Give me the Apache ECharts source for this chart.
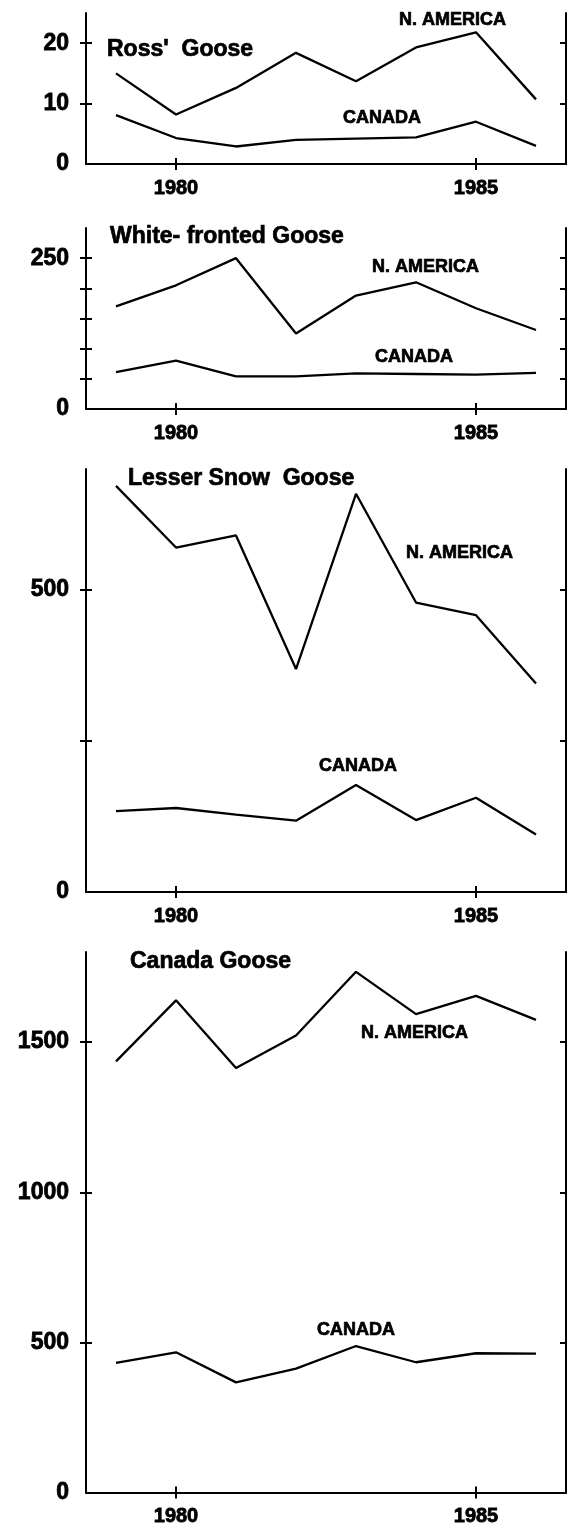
<!DOCTYPE html>
<html>
<head>
<meta charset="utf-8">
<title>Goose harvest 1979-1986</title>
<script src="https://cdn.jsdelivr.net/npm/echarts@6/dist/echarts.min.js"></script>
<style>
  html, body { margin: 0; padding: 0; background: #fff; }
  #chart { width: 568px; height: 1527px; }
</style>
</head>
<body>
<div id="chart"></div>
<script>
// data (thousands of birds)
const years = [1979, 1980, 1981, 1982, 1983, 1984, 1985, 1986]
const yearLabels = [1980, 1985]

const rossNA = [15.0, 8.2, 12.6, 18.4, 13.7, 19.3, 21.8, 10.7]
const rossCA = [8.1, 4.3, 2.9, 4.0, 4.2, 4.4, 7.0, 3.0]

const whiteNA = [170, 205, 250, 125, 188, 210, 167, 131]
const whiteCA = [61, 80, 54, 54, 59, 58, 57, 60]

const snowNA = [672, 570, 590, 369, 659, 479, 458, 345]
const snowCA = [134, 139, 128, 118, 177, 119, 156, 95]

const canadaNA = [1436, 1639, 1414, 1522, 1734, 1593, 1654, 1574]
const canadaCA = [432, 467, 367, 413, 488, 434, 464, 463]

const rossTicks = [10, 20]
const rossLabels = [0, 10, 20]
const whiteTicks = [50, 100, 150, 200, 250]
const whiteLabels = [0, 250]
const snowTicks = [250, 500]
const snowLabels = [0, 500]
const canadaTicks = [500, 1000, 1500]
const canadaLabels = [0, 500, 1000, 1500]

const font = '"Liberation Sans", Arial, Helvetica, sans-serif'
const black = { color: '#000', width: 2 }
const plain = (v) => String(v)

const panels = [
  { top: 13, height: 151, max: 25, ticks: rossTicks, labels: rossLabels, na: rossNA, ca: rossCA },
  { top: 228, height: 181, max: 300, ticks: whiteTicks, labels: whiteLabels, na: whiteNA, ca: whiteCA },
  { top: 469, height: 423, max: 700, ticks: snowTicks, labels: snowLabels, na: snowNA, ca: snowCA },
  { top: 952, height: 541, max: 1800, ticks: canadaTicks, labels: canadaLabels, na: canadaNA, ca: canadaCA }
]

const grid = []
const xAxis = []
const yAxis = []
const series = []

panels.forEach((p, i) => {
  grid.push({ left: 86, right: 2, top: p.top, height: p.height })

  // bottom axis: labels + outer ticks, then a second one for the inner half of the ticks
  xAxis.push({
    gridIndex: i, type: 'value', min: 1978.5, max: 1986.5, position: 'bottom',
    axisLine: { show: true, onZero: false, lineStyle: black },
    axisTick: { show: true, length: 6, customValues: yearLabels, lineStyle: black },
    axisLabel: {
      customValues: yearLabels, formatter: plain, fontSize: 20, fontWeight: 'bold', fontFamily: font,
      color: '#000', textBorderColor: '#000', textBorderWidth: 0.8, margin: 14
    },
    splitLine: { show: false }
  })
  xAxis.push({
    gridIndex: i, type: 'value', min: 1978.5, max: 1986.5, position: 'bottom',
    axisLine: { show: false },
    axisTick: { show: true, inside: true, length: 6, customValues: yearLabels, lineStyle: black },
    axisLabel: { show: false },
    splitLine: { show: false }
  })

  yAxis.push({
    gridIndex: i, type: 'value', min: 0, max: p.max, position: 'left',
    axisLine: { show: true, onZero: false, lineStyle: black },
    axisTick: { show: true, length: 6, customValues: p.ticks, lineStyle: black },
    axisLabel: {
      customValues: p.labels, formatter: plain, fontSize: 23, fontWeight: 'bold', fontFamily: font,
      color: '#000', textBorderColor: '#000', textBorderWidth: 0.8, margin: 17
    },
    splitLine: { show: false }
  })
  yAxis.push({
    gridIndex: i, type: 'value', min: 0, max: p.max, position: 'left',
    axisLine: { show: false },
    axisTick: { show: true, inside: true, length: 6, customValues: p.ticks, lineStyle: black },
    axisLabel: { show: false },
    splitLine: { show: false }
  })
  yAxis.push({
    gridIndex: i, type: 'value', min: 0, max: p.max, position: 'right',
    axisLine: { show: true, onZero: false, lineStyle: black },
    axisTick: { show: true, inside: true, length: 6, customValues: p.ticks, lineStyle: black },
    axisLabel: { show: false },
    splitLine: { show: false }
  })

  ;[p.na, p.ca].forEach((vals) => {
    series.push({
      type: 'line',
      xAxisIndex: 2 * i,
      yAxisIndex: 3 * i,
      data: years.map((y, k) => [y, vals[k]]),
      symbol: 'none',
      lineStyle: { color: '#000', width: 2.3 },
      silent: true
    })
  })
})

const label = (text, x, y, size) => ({
  type: 'text',
  x: x,
  y: y,
  style: {
    text: text, fill: '#000', stroke: '#000', lineWidth: 0.7,
    font: 'bold ' + size + 'px ' + font, verticalAlign: 'middle'
  }
})

const graphic = [
  label("Ross'  Goose", 107, 50, 23),
  label('N. AMERICA', 399, 20, 18),
  label('CANADA', 343, 118, 18),

  label('White- fronted Goose', 110, 237, 23),
  label('N. AMERICA', 372, 267, 18),
  label('CANADA', 375, 357, 18),

  label('Lesser Snow  Goose', 128, 479, 23),
  label('N. AMERICA', 406, 553, 18),
  label('CANADA', 319, 766, 18),

  label('Canada Goose', 130, 962, 23),
  label('N. AMERICA', 361, 1033, 18),
  label('CANADA', 317, 1330, 18)
]

const chart = echarts.init(document.getElementById('chart'))
chart.setOption({
  animation: false,
  backgroundColor: '#fff',
  grid: grid,
  xAxis: xAxis,
  yAxis: yAxis,
  series: series,
  graphic: graphic
})
</script>
</body>
</html>
